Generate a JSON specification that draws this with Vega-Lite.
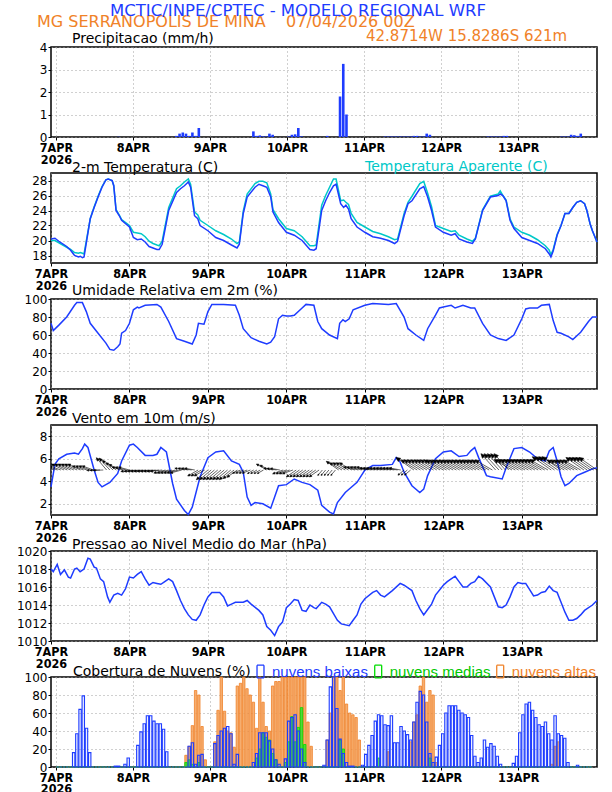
{
  "$schema": "https://vega.github.io/schema/vega-lite/v6.json",
  "autosize": {"type": "none"},
  "padding": {"left": 51, "top": 47, "right": 561, "bottom": 745},
  "background": "white",
  "config": {
    "font": "DejaVu Sans",
    "view": {"stroke": "black", "strokeWidth": 1.5},
    "title": {"font": "DejaVu Sans", "fontSize": 14, "fontWeight": "normal", "color": "black", "anchor": "start", "frame": "group", "offset": 0},
    "axis": {"domain": false, "grid": true, "gridColor": "#a0a0a0", "gridDash": [1, 3], "tickColor": "black", "labelColor": "black", "title": null, "labelOverlap": false}
  },
  "datasets": {
    "bars": [
      {"h":0.5,"pr":0,"cl":0,"cm":0,"ch":0},{"h":1.5,"pr":0,"cl":0,"cm":0,"ch":0},{"h":2.5,"pr":0,"cl":0,"cm":0,"ch":0},{"h":3.5,"pr":0,"cl":0,"cm":0,"ch":0},{"h":4.5,"pr":0,"cl":0,"cm":0,"ch":0},
      {"h":5.5,"pr":0,"cl":16,"cm":0,"ch":0},{"h":6.5,"pr":0,"cl":37,"cm":0,"ch":0},{"h":7.5,"pr":0,"cl":64,"cm":0,"ch":0},{"h":8.5,"pr":0,"cl":79,"cm":0,"ch":0},{"h":9.5,"pr":0,"cl":43,"cm":0,"ch":0},
      {"h":10.5,"pr":0,"cl":16,"cm":0,"ch":0},{"h":11.5,"pr":0,"cl":0,"cm":0,"ch":0},{"h":12.5,"pr":0,"cl":0,"cm":0,"ch":0},{"h":13.5,"pr":0,"cl":0,"cm":0,"ch":0},{"h":14.5,"pr":0,"cl":0,"cm":0,"ch":0},
      {"h":15.5,"pr":0,"cl":0,"cm":0,"ch":0},{"h":16.5,"pr":0,"cl":0,"cm":0,"ch":0},{"h":17.5,"pr":0,"cl":0,"cm":0,"ch":0},{"h":18.5,"pr":0,"cl":1,"cm":0,"ch":0},{"h":19.5,"pr":0.01,"cl":1,"cm":0,"ch":0},
      {"h":20.5,"pr":0,"cl":0,"cm":0,"ch":0},{"h":21.5,"pr":0,"cl":3,"cm":0,"ch":0},{"h":22.5,"pr":0,"cl":10,"cm":0,"ch":0},{"h":23.5,"pr":0,"cl":0,"cm":0,"ch":0},{"h":24.5,"pr":0,"cl":0,"cm":0,"ch":0},
      {"h":25.5,"pr":0,"cl":24,"cm":0,"ch":0},{"h":26.5,"pr":0,"cl":39,"cm":0,"ch":0},{"h":27.5,"pr":0,"cl":48,"cm":0,"ch":0},{"h":28.5,"pr":0,"cl":57,"cm":0,"ch":0},{"h":29.5,"pr":0,"cl":57,"cm":0,"ch":0},
      {"h":30.5,"pr":0,"cl":51,"cm":0,"ch":0},{"h":31.5,"pr":0,"cl":48,"cm":0,"ch":0},{"h":32.5,"pr":0,"cl":48,"cm":0,"ch":0},{"h":33.5,"pr":0,"cl":42,"cm":0,"ch":0},{"h":34.5,"pr":0,"cl":17,"cm":0,"ch":0},
      {"h":35.5,"pr":0,"cl":0,"cm":0,"ch":0},{"h":36.5,"pr":0,"cl":0,"cm":0,"ch":0},{"h":37.5,"pr":0.05,"cl":0,"cm":0,"ch":0},{"h":38.5,"pr":0.15,"cl":0,"cm":0,"ch":0},{"h":39.5,"pr":0.2,"cl":0,"cm":0,"ch":0},
      {"h":40.5,"pr":0.15,"cl":0,"cm":5,"ch":13},{"h":41.5,"pr":0.05,"cl":23,"cm":8,"ch":23},{"h":42.5,"pr":0.2,"cl":27,"cm":3,"ch":46},{"h":43.5,"pr":0.05,"cl":3,"cm":0,"ch":85},{"h":44.5,"pr":0.4,"cl":13,"cm":5,"ch":80},
      {"h":45.5,"pr":0,"cl":14,"cm":0,"ch":45},{"h":46.5,"pr":0,"cl":0,"cm":0,"ch":8},{"h":47.5,"pr":0,"cl":0,"cm":0,"ch":0},{"h":48.5,"pr":0,"cl":0,"cm":0,"ch":0},{"h":49.5,"pr":0,"cl":26,"cm":0,"ch":28},
      {"h":50.5,"pr":0,"cl":35,"cm":0,"ch":63},{"h":51.5,"pr":0,"cl":40,"cm":0,"ch":100},{"h":52.5,"pr":0,"cl":43,"cm":0,"ch":62},{"h":53.5,"pr":0,"cl":45,"cm":0,"ch":40},{"h":54.5,"pr":0,"cl":37,"cm":0,"ch":38},
      {"h":55.5,"pr":0,"cl":3,"cm":0,"ch":22},{"h":56.5,"pr":0,"cl":14,"cm":0,"ch":90},{"h":57.5,"pr":0,"cl":0,"cm":0,"ch":93},{"h":58.5,"pr":0,"cl":0,"cm":0,"ch":100},{"h":59.5,"pr":0,"cl":0,"cm":0,"ch":87},
      {"h":60.5,"pr":0,"cl":0,"cm":0,"ch":80},{"h":61.5,"pr":0.25,"cl":5,"cm":0,"ch":72},{"h":62.5,"pr":0.05,"cl":15,"cm":10,"ch":43},{"h":63.5,"pr":0.07,"cl":38,"cm":20,"ch":100},{"h":64.5,"pr":0.03,"cl":38,"cm":38,"ch":72},
      {"h":65.5,"pr":0.02,"cl":38,"cm":33,"ch":45},{"h":66.5,"pr":0.15,"cl":29,"cm":30,"ch":40},{"h":67.5,"pr":0.1,"cl":20,"cm":15,"ch":90},{"h":68.5,"pr":0,"cl":8,"cm":8,"ch":95},{"h":69.5,"pr":0,"cl":3,"cm":0,"ch":95},
      {"h":70.5,"pr":0,"cl":0,"cm":0,"ch":100},{"h":71.5,"pr":0,"cl":9,"cm":5,"ch":100},{"h":72.5,"pr":0.02,"cl":51,"cm":28,"ch":100},{"h":73.5,"pr":0.1,"cl":55,"cm":56,"ch":100},{"h":74.5,"pr":0.12,"cl":58,"cm":28,"ch":100},
      {"h":75.5,"pr":0.4,"cl":40,"cm":44,"ch":100},{"h":76.5,"pr":0.03,"cl":20,"cm":66,"ch":100},{"h":77.5,"pr":0,"cl":5,"cm":25,"ch":100},{"h":78.5,"pr":0,"cl":0,"cm":0,"ch":50},{"h":79.5,"pr":0,"cl":0,"cm":0,"ch":23},
      {"h":80.5,"pr":0,"cl":0,"cm":0,"ch":0},{"h":81.5,"pr":0,"cl":0,"cm":0,"ch":0},{"h":82.5,"pr":0,"cl":0,"cm":0,"ch":0},{"h":83.5,"pr":0,"cl":2,"cm":0,"ch":0},{"h":84.5,"pr":0.05,"cl":30,"cm":0,"ch":30},
      {"h":85.5,"pr":0,"cl":89,"cm":0,"ch":60},{"h":86.5,"pr":0,"cl":100,"cm":0,"ch":100},{"h":87.5,"pr":0,"cl":65,"cm":0,"ch":100},{"h":88.5,"pr":1.8,"cl":31,"cm":30,"ch":85},{"h":89.5,"pr":3.25,"cl":15,"cm":20,"ch":100},
      {"h":90.5,"pr":1.0,"cl":5,"cm":0,"ch":70},{"h":91.5,"pr":0,"cl":1,"cm":0,"ch":60},{"h":92.5,"pr":0,"cl":1,"cm":0,"ch":58},{"h":93.5,"pr":0,"cl":0,"cm":0,"ch":55},{"h":94.5,"pr":0,"cl":0,"cm":0,"ch":30},
      {"h":95.5,"pr":0,"cl":2,"cm":0,"ch":0},{"h":96.5,"pr":0,"cl":14,"cm":0,"ch":0},{"h":97.5,"pr":0,"cl":24,"cm":0,"ch":0},{"h":98.5,"pr":0,"cl":35,"cm":0,"ch":0},{"h":99.5,"pr":0,"cl":51,"cm":0,"ch":0},
      {"h":100.5,"pr":0,"cl":58,"cm":10,"ch":0},{"h":101.5,"pr":0,"cl":57,"cm":0,"ch":0},{"h":102.5,"pr":0.02,"cl":47,"cm":0,"ch":0},{"h":103.5,"pr":0.02,"cl":46,"cm":0,"ch":17},{"h":104.5,"pr":0.02,"cl":57,"cm":0,"ch":0},
      {"h":105.5,"pr":0.02,"cl":27,"cm":0,"ch":0},{"h":106.5,"pr":0.02,"cl":27,"cm":0,"ch":0},{"h":107.5,"pr":0.02,"cl":45,"cm":0,"ch":0},{"h":108.5,"pr":0.02,"cl":40,"cm":0,"ch":0},{"h":109.5,"pr":0.02,"cl":36,"cm":0,"ch":0},
      {"h":110.5,"pr":0.02,"cl":30,"cm":0,"ch":28},{"h":111.5,"pr":0.05,"cl":50,"cm":0,"ch":50},{"h":112.5,"pr":0.05,"cl":72,"cm":0,"ch":58},{"h":113.5,"pr":0.02,"cl":84,"cm":0,"ch":90},{"h":114.5,"pr":0.02,"cl":80,"cm":0,"ch":100},
      {"h":115.5,"pr":0.15,"cl":50,"cm":0,"ch":72},{"h":116.5,"pr":0.1,"cl":15,"cm":10,"ch":85},{"h":117.5,"pr":0,"cl":5,"cm":0,"ch":80},{"h":118.5,"pr":0,"cl":11,"cm":0,"ch":5},{"h":119.5,"pr":0,"cl":24,"cm":0,"ch":0},
      {"h":120.5,"pr":0,"cl":37,"cm":0,"ch":0},{"h":121.5,"pr":0,"cl":60,"cm":0,"ch":0},{"h":122.5,"pr":0,"cl":68,"cm":0,"ch":0},{"h":123.5,"pr":0,"cl":68,"cm":0,"ch":0},{"h":124.5,"pr":0,"cl":68,"cm":0,"ch":0},
      {"h":125.5,"pr":0,"cl":63,"cm":0,"ch":0},{"h":126.5,"pr":0,"cl":60,"cm":0,"ch":0},{"h":127.5,"pr":0,"cl":58,"cm":0,"ch":0},{"h":128.5,"pr":0,"cl":55,"cm":0,"ch":0},{"h":129.5,"pr":0,"cl":35,"cm":0,"ch":0},
      {"h":130.5,"pr":0,"cl":12,"cm":0,"ch":0},{"h":131.5,"pr":0,"cl":5,"cm":0,"ch":0},{"h":132.5,"pr":0,"cl":10,"cm":0,"ch":0},{"h":133.5,"pr":0,"cl":30,"cm":0,"ch":0},{"h":134.5,"pr":0.02,"cl":22,"cm":0,"ch":0},
      {"h":135.5,"pr":0.02,"cl":26,"cm":0,"ch":0},{"h":136.5,"pr":0.02,"cl":23,"cm":0,"ch":0},{"h":137.5,"pr":0.02,"cl":12,"cm":0,"ch":0},{"h":138.5,"pr":0.02,"cl":3,"cm":0,"ch":0},{"h":139.5,"pr":0.05,"cl":0,"cm":0,"ch":0},
      {"h":140.5,"pr":0.05,"cl":0,"cm":0,"ch":0},{"h":141.5,"pr":0,"cl":0,"cm":0,"ch":0},{"h":142.5,"pr":0,"cl":4,"cm":0,"ch":0},{"h":143.5,"pr":0,"cl":12,"cm":0,"ch":0},{"h":144.5,"pr":0,"cl":38,"cm":0,"ch":0},
      {"h":145.5,"pr":0,"cl":58,"cm":0,"ch":0},{"h":146.5,"pr":0,"cl":70,"cm":0,"ch":0},{"h":147.5,"pr":0,"cl":72,"cm":0,"ch":0},{"h":148.5,"pr":0,"cl":63,"cm":0,"ch":0},{"h":149.5,"pr":0,"cl":55,"cm":0,"ch":0},
      {"h":150.5,"pr":0,"cl":47,"cm":0,"ch":0},{"h":151.5,"pr":0,"cl":45,"cm":0,"ch":0},{"h":152.5,"pr":0,"cl":50,"cm":0,"ch":0},{"h":153.5,"pr":0,"cl":37,"cm":0,"ch":0},{"h":154.5,"pr":0,"cl":30,"cm":0,"ch":3},
      {"h":155.5,"pr":0,"cl":57,"cm":0,"ch":23},{"h":156.5,"pr":0,"cl":37,"cm":0,"ch":28},{"h":157.5,"pr":0.02,"cl":35,"cm":0,"ch":0},{"h":158.5,"pr":0.02,"cl":32,"cm":0,"ch":0},{"h":159.5,"pr":0.02,"cl":5,"cm":0,"ch":0},
      {"h":160.5,"pr":0.1,"cl":0,"cm":0,"ch":0},{"h":161.5,"pr":0.08,"cl":0,"cm":0,"ch":0},{"h":162.5,"pr":0.05,"cl":2,"cm":0,"ch":0},{"h":163.5,"pr":0.15,"cl":0,"cm":0,"ch":0},{"h":164.5,"pr":0,"cl":0,"cm":0,"ch":0},
      {"h":165.5,"pr":0,"cl":0,"cm":0,"ch":0},{"h":166.5,"pr":0,"cl":0,"cm":0,"ch":0}
    ],
    "temp": [
      {"h":0,"t":20.2,"ta":20.0},{"h":1.2,"t":20.3,"ta":20.0},{"h":2.4,"t":19.9,"ta":19.7},{"h":4.8,"t":19.2,"ta":19.1},{"h":6,"t":18.7,"ta":18.8},
      {"h":7.2,"t":18.0,"ta":18.4},{"h":8.4,"t":17.8,"ta":18.3},{"h":9,"t":17.9,"ta":18.4},{"h":9.6,"t":17.7,"ta":18.3},{"h":10.1,"t":17.8,"ta":18.2},
      {"h":12,"t":22.9,"ta":22.9},{"h":13.2,"t":24.4,"ta":24.5},{"h":14.4,"t":25.8,"ta":25.9},{"h":15.6,"t":27.1,"ta":27.2},{"h":16.8,"t":28.1,"ta":28.1},
      {"h":17.5,"t":28.2,"ta":28.2},{"h":18.7,"t":28.0,"ta":28.0},{"h":19.2,"t":27.3,"ta":27.3},{"h":19.9,"t":24.0,"ta":24.1},{"h":20.9,"t":23.3,"ta":23.4},
      {"h":21.6,"t":22.7,"ta":22.8},{"h":24,"t":21.8,"ta":22.0},{"h":25.2,"t":20.4,"ta":21.1},{"h":26.4,"t":20.1,"ta":21.0},{"h":27.6,"t":20.2,"ta":20.9},
      {"h":28.8,"t":19.8,"ta":20.5},{"h":30,"t":19.2,"ta":19.9},{"h":31.2,"t":19.0,"ta":19.6},{"h":32.4,"t":18.8,"ta":19.4},{"h":33.1,"t":18.8,"ta":19.3},
      {"h":34,"t":19.5,"ta":19.9},{"h":36,"t":24.0,"ta":24.4},{"h":38.4,"t":26.4,"ta":26.9},{"h":39.6,"t":26.9,"ta":27.3},{"h":40.8,"t":27.3,"ta":27.8},
      {"h":42,"t":27.8,"ta":28.2},{"h":42.7,"t":27.1,"ta":27.5},{"h":43.9,"t":23.3,"ta":23.8},{"h":44.9,"t":22.9,"ta":23.4},{"h":45.6,"t":22.0,"ta":22.7},
      {"h":48,"t":21.3,"ta":22.0},{"h":50.4,"t":20.4,"ta":21.3},{"h":52.8,"t":20.0,"ta":20.8},{"h":55.2,"t":19.4,"ta":20.2},{"h":56.9,"t":19.0,"ta":19.6},
      {"h":57.6,"t":19.5,"ta":19.8},{"h":58.8,"t":23.6,"ta":23.9},{"h":60,"t":25.8,"ta":26.2},{"h":62.4,"t":27.1,"ta":27.6},{"h":63.6,"t":27.5,"ta":27.9},
      {"h":64.8,"t":27.3,"ta":27.9},{"h":66,"t":27.1,"ta":27.7},{"h":67.2,"t":25.8,"ta":26.2},{"h":67.9,"t":23.8,"ta":24.1},{"h":69.6,"t":22.4,"ta":22.9},
      {"h":72,"t":21.1,"ta":21.6},{"h":74.4,"t":20.7,"ta":21.3},{"h":76.8,"t":20.0,"ta":20.5},{"h":79.2,"t":18.8,"ta":19.3},{"h":80.4,"t":18.7,"ta":19.3},
      {"h":81.1,"t":18.9,"ta":19.4},{"h":82.8,"t":24.0,"ta":24.7},{"h":84,"t":25.3,"ta":26.0},{"h":85.2,"t":26.4,"ta":27.1},{"h":86.4,"t":27.3,"ta":28.2},
      {"h":87.2,"t":27.5,"ta":28.2},{"h":88.6,"t":24.9,"ta":25.3},{"h":89.5,"t":24.4,"ta":25.4},{"h":90.2,"t":24.7,"ta":25.1},{"h":91,"t":24.2,"ta":24.8},
      {"h":91.8,"t":22.9,"ta":23.6},{"h":93.6,"t":21.8,"ta":22.4},{"h":96,"t":21.1,"ta":21.8},{"h":98.4,"t":20.5,"ta":21.2},{"h":100.8,"t":20.3,"ta":20.9},
      {"h":103.2,"t":20.0,"ta":20.5},{"h":105.1,"t":19.6,"ta":20.1},{"h":106,"t":19.9,"ta":20.2},{"h":108,"t":23.3,"ta":23.6},{"h":109.2,"t":24.9,"ta":25.1},
      {"h":110.4,"t":25.3,"ta":25.9},{"h":112.8,"t":26.9,"ta":27.6},{"h":114,"t":27.2,"ta":27.9},{"h":115.2,"t":25.8,"ta":26.3},{"h":116.4,"t":24.0,"ta":24.5},
      {"h":117.6,"t":21.8,"ta":22.0},{"h":120,"t":21.1,"ta":21.6},{"h":122.4,"t":20.7,"ta":21.2},{"h":123.6,"t":20.9,"ta":21.3},{"h":124.8,"t":20.2,"ta":20.7},
      {"h":127.2,"t":19.8,"ta":20.2},{"h":128.9,"t":19.6,"ta":19.9},{"h":129.8,"t":20.2,"ta":20.3},{"h":132,"t":24.0,"ta":24.1},{"h":134.4,"t":25.8,"ta":25.9},
      {"h":136.8,"t":26.0,"ta":26.2},{"h":137.4,"t":26.2,"ta":26.6},{"h":138.2,"t":26.0,"ta":26.0},{"h":139.2,"t":25.3,"ta":25.4},{"h":140.4,"t":22.7,"ta":22.9},
      {"h":141.6,"t":21.6,"ta":21.8},{"h":144,"t":20.4,"ta":21.1},{"h":146.4,"t":20.0,"ta":20.7},{"h":148.8,"t":19.6,"ta":20.1},{"h":151.2,"t":18.9,"ta":19.3},
      {"h":152.4,"t":18.2,"ta":18.7},{"h":152.9,"t":17.8,"ta":18.1},{"h":153.6,"t":18.6,"ta":18.8},{"h":154.8,"t":20.7,"ta":20.8},{"h":156,"t":22.0,"ta":22.0},
      {"h":157.2,"t":23.6,"ta":23.6},{"h":158.4,"t":23.6,"ta":23.6},{"h":159.6,"t":24.4,"ta":24.4},{"h":160.8,"t":25.1,"ta":25.1},{"h":162,"t":25.3,"ta":25.3},
      {"h":163.2,"t":24.9,"ta":24.9},{"h":163.9,"t":24.0,"ta":24.0},{"h":164.9,"t":22.2,"ta":22.2},{"h":165.6,"t":21.3,"ta":21.3},{"h":167,"t":19.8,"ta":19.8}
    ],
    "rh": [
      {"h":0,"rh":73},{"h":0.7,"rh":65},{"h":2.4,"rh":71},{"h":4.8,"rh":80},{"h":7.2,"rh":93},{"h":7.9,"rh":96},{"h":9.6,"rh":96},{"h":10.8,"rh":86},
      {"h":12,"rh":73},{"h":14.4,"rh":62},{"h":16.8,"rh":51},{"h":18,"rh":44},{"h":19.2,"rh":43},{"h":20.4,"rh":47},{"h":21.1,"rh":50},{"h":21.6,"rh":62},
      {"h":22.8,"rh":65},{"h":24,"rh":73},{"h":25.2,"rh":88},{"h":26.4,"rh":91},{"h":26.9,"rh":90},{"h":28.8,"rh":93},{"h":32.4,"rh":94},{"h":33.6,"rh":91},
      {"h":36,"rh":75},{"h":38.4,"rh":56},{"h":40.8,"rh":53},{"h":43.2,"rh":50},{"h":44.4,"rh":60},{"h":45.1,"rh":73},{"h":46.8,"rh":72},{"h":48,"rh":86},
      {"h":49.2,"rh":94},{"h":52.8,"rh":94},{"h":56.4,"rh":93},{"h":57.6,"rh":82},{"h":58.8,"rh":67},{"h":61.2,"rh":57},{"h":63.6,"rh":53},{"h":66,"rh":50},
      {"h":67.2,"rh":52},{"h":68.4,"rh":58},{"h":69.6,"rh":78},{"h":70.8,"rh":82},{"h":72,"rh":81},{"h":73.2,"rh":81},{"h":74.4,"rh":82},{"h":76.8,"rh":90},
      {"h":78,"rh":94},{"h":80.4,"rh":93},{"h":81.6,"rh":75},{"h":82.8,"rh":67},{"h":85.2,"rh":60},{"h":87.6,"rh":56},{"h":88.3,"rh":73},{"h":89.3,"rh":77},
      {"h":90,"rh":75},{"h":91.2,"rh":78},{"h":92.4,"rh":88},{"h":96,"rh":93},{"h":98.4,"rh":95},{"h":103.2,"rh":94},{"h":105.6,"rh":95},{"h":108,"rh":80},
      {"h":109.2,"rh":67},{"h":111.6,"rh":60},{"h":114,"rh":54},{"h":115.2,"rh":67},{"h":117.6,"rh":82},{"h":118.8,"rh":90},{"h":120,"rh":91},{"h":122.4,"rh":93},
      {"h":123.6,"rh":90},{"h":126,"rh":93},{"h":128.4,"rh":90},{"h":129.6,"rh":90},{"h":132,"rh":73},{"h":134.4,"rh":60},{"h":136.8,"rh":56},{"h":139.2,"rh":54},
      {"h":141.6,"rh":60},{"h":144,"rh":78},{"h":145.2,"rh":89},{"h":146.4,"rh":90},{"h":148.8,"rh":90},{"h":150,"rh":93},{"h":152.4,"rh":94},{"h":153.6,"rh":76},
      {"h":154.8,"rh":63},{"h":156,"rh":62},{"h":158.4,"rh":58},{"h":159.6,"rh":55},{"h":162,"rh":63},{"h":164.4,"rh":75},{"h":165.6,"rh":80},{"h":167,"rh":80}
    ],
    "ws": [
      {"h":0,"ws":3.5},{"h":1.2,"ws":5.5},{"h":2.4,"ws":6.0},{"h":4.8,"ws":6.4},{"h":7.2,"ws":6.5},{"h":8.4,"ws":6.4},{"h":9.6,"ws":6.9},{"h":10.3,"ws":7.3},
      {"h":11.3,"ws":7.0},{"h":13.2,"ws":5.0},{"h":14.4,"ws":3.9},{"h":15.6,"ws":3.5},{"h":18,"ws":3.9},{"h":20.4,"ws":4.7},{"h":21.6,"ws":5.8},{"h":24,"ws":7.2},
      {"h":25.2,"ws":7.3},{"h":26.4,"ws":7.0},{"h":28.8,"ws":6.3},{"h":31.2,"ws":6.3},{"h":32.4,"ws":6.4},{"h":33.6,"ws":7.0},{"h":35.3,"ws":6.6},{"h":37.2,"ws":3.8},
      {"h":38.4,"ws":2.4},{"h":40.8,"ws":1.4},{"h":42,"ws":1.05},{"h":43.2,"ws":1.7},{"h":45.6,"ws":4.4},{"h":48,"ws":6.1},{"h":50.4,"ws":6.6},{"h":52.8,"ws":6.7},
      {"h":55.2,"ws":5.8},{"h":57.6,"ws":5.5},{"h":58.8,"ws":4.8},{"h":60,"ws":2.6},{"h":61.2,"ws":1.85},{"h":62.4,"ws":2.1},{"h":64.8,"ws":2.0},{"h":67.2,"ws":1.6},
      {"h":68.4,"ws":2.6},{"h":69.6,"ws":3.6},{"h":72,"ws":3.7},{"h":74.4,"ws":4.2},{"h":76.8,"ws":3.9},{"h":79.2,"ws":3.7},{"h":81.6,"ws":3.2},{"h":82.8,"ws":1.85},
      {"h":85.2,"ws":1.25},{"h":86.4,"ws":1.1},{"h":87.6,"ws":2.1},{"h":90,"ws":3.0},{"h":93.6,"ws":3.9},{"h":96,"ws":5.0},{"h":98.4,"ws":5.4},{"h":100.8,"ws":5.4},
      {"h":104.4,"ws":5.5},{"h":105.6,"ws":6.1},{"h":106.8,"ws":5.7},{"h":108,"ws":4.8},{"h":110.4,"ws":3.6},{"h":112.8,"ws":3.0},{"h":114,"ws":3.3},{"h":115.2,"ws":4.5},
      {"h":117.6,"ws":6.0},{"h":120,"ws":6.6},{"h":122.4,"ws":6.7},{"h":124.8,"ws":6.2},{"h":127.2,"ws":6.3},{"h":128.4,"ws":6.7},{"h":129.6,"ws":7.0},{"h":130.8,"ws":6.1},
      {"h":133.2,"ws":4.5},{"h":134.4,"ws":4.4},{"h":138,"ws":4.2},{"h":139.2,"ws":5.2},{"h":141.6,"ws":6.9},{"h":144,"ws":7.0},{"h":146.4,"ws":6.6},{"h":148.8,"ws":6.0},
      {"h":151.2,"ws":5.8},{"h":152.4,"ws":6.7},{"h":153.6,"ws":7.0},{"h":154.8,"ws":5.8},{"h":156,"ws":4.4},{"h":157.2,"ws":3.6},{"h":158.4,"ws":3.8},{"h":160.8,"ws":4.5},
      {"h":163.2,"ws":4.8},{"h":165.6,"ws":5.1},{"h":167,"ws":5.2}
    ],
    "wind": [
      {"h":0,"dir":290,"mag":3.0},{"h":1,"dir":290,"mag":3.0},{"h":2,"dir":290,"mag":3.0},{"h":3,"dir":290,"mag":3.0},{"h":4,"dir":295,"mag":3.5},{"h":5,"dir":295,"mag":3.5},
      {"h":6,"dir":295,"mag":3.5},{"h":7,"dir":295,"mag":3.5},{"h":8,"dir":295,"mag":3.5},{"h":9,"dir":295,"mag":3.5},{"h":10,"dir":290,"mag":3.0},{"h":11,"dir":290,"mag":3.0},
      {"h":12,"dir":290,"mag":3.0},{"h":13,"dir":290,"mag":3.0},{"h":14,"dir":268,"mag":2.5},{"h":15,"dir":268,"mag":2.5},{"h":16,"dir":268,"mag":2.5},{"h":17,"dir":320,"mag":4.0},
      {"h":18,"dir":318,"mag":4.0},{"h":19,"dir":312,"mag":3.6},{"h":20,"dir":305,"mag":3.2},{"h":21,"dir":298,"mag":3.0},{"h":22,"dir":285,"mag":2.8},{"h":23,"dir":285,"mag":2.8},
      {"h":24,"dir":285,"mag":2.8},{"h":25,"dir":263,"mag":3.0},{"h":26,"dir":263,"mag":3.0},{"h":27,"dir":263,"mag":3.0},{"h":28,"dir":263,"mag":3.0},{"h":29,"dir":263,"mag":3.0},
      {"h":30,"dir":263,"mag":3.0},{"h":31,"dir":263,"mag":3.0},{"h":32,"dir":263,"mag":3.0},{"h":33,"dir":263,"mag":3.0},{"h":34,"dir":263,"mag":3.0},{"h":35,"dir":255,"mag":3.0},
      {"h":36,"dir":255,"mag":3.0},{"h":37,"dir":255,"mag":3.0},{"h":38,"dir":255,"mag":3.0},{"h":39,"dir":255,"mag":3.0},{"h":40,"dir":255,"mag":3.0},{"h":41,"dir":280,"mag":2.6},
      {"h":42,"dir":280,"mag":2.6},{"h":43,"dir":280,"mag":2.6},{"h":44,"dir":280,"mag":2.6},{"h":45,"dir":240,"mag":3.0},{"h":46,"dir":240,"mag":3.0},{"h":47,"dir":240,"mag":3.0},
      {"h":48,"dir":230,"mag":3.8},{"h":49,"dir":230,"mag":3.8},{"h":50,"dir":230,"mag":3.8},{"h":51,"dir":230,"mag":3.8},{"h":52,"dir":230,"mag":3.8},{"h":53,"dir":230,"mag":3.8},
      {"h":54,"dir":230,"mag":3.8},{"h":55,"dir":230,"mag":3.8},{"h":56,"dir":232,"mag":3.5},{"h":57,"dir":235,"mag":3.2},{"h":58,"dir":248,"mag":2.2},{"h":59,"dir":248,"mag":2.2},
      {"h":60,"dir":248,"mag":2.2},{"h":61,"dir":248,"mag":2.2},{"h":62,"dir":240,"mag":1.8},{"h":63,"dir":240,"mag":1.8},{"h":64,"dir":240,"mag":1.8},{"h":65,"dir":240,"mag":1.8},
      {"h":66,"dir":300,"mag":3.0},{"h":67,"dir":295,"mag":2.8},{"h":68,"dir":280,"mag":2.4},{"h":69,"dir":280,"mag":2.4},{"h":70,"dir":280,"mag":2.4},{"h":71,"dir":250,"mag":2.8},
      {"h":72,"dir":250,"mag":2.8},{"h":73,"dir":250,"mag":2.8},{"h":74,"dir":250,"mag":2.8},{"h":75,"dir":235,"mag":3.0},{"h":76,"dir":235,"mag":3.0},{"h":77,"dir":235,"mag":3.0},
      {"h":78,"dir":235,"mag":3.0},{"h":79,"dir":235,"mag":3.0},{"h":80,"dir":235,"mag":3.0},{"h":81,"dir":235,"mag":3.0},{"h":82,"dir":235,"mag":3.0},{"h":83,"dir":220,"mag":1.8},
      {"h":84,"dir":220,"mag":1.8},{"h":85,"dir":220,"mag":1.8},{"h":86,"dir":220,"mag":1.8},{"h":87,"dir":220,"mag":1.8},{"h":88,"dir":305,"mag":3.8},{"h":89,"dir":300,"mag":3.6},
      {"h":90,"dir":300,"mag":3.6},{"h":91,"dir":300,"mag":3.6},{"h":92,"dir":300,"mag":3.6},{"h":93,"dir":285,"mag":3.0},{"h":94,"dir":285,"mag":3.0},{"h":95,"dir":285,"mag":3.0},
      {"h":96,"dir":285,"mag":3.0},{"h":97,"dir":285,"mag":3.0},{"h":98,"dir":280,"mag":3.0},{"h":99,"dir":280,"mag":3.0},{"h":100,"dir":280,"mag":3.0},{"h":101,"dir":280,"mag":3.0},
      {"h":102,"dir":280,"mag":3.0},{"h":103,"dir":280,"mag":3.0},{"h":104,"dir":280,"mag":3.0},{"h":105,"dir":280,"mag":3.0},{"h":106,"dir":280,"mag":3.0},{"h":107,"dir":280,"mag":3.0},
      {"h":108,"dir":230,"mag":2.0},{"h":109,"dir":230,"mag":2.0},{"h":110,"dir":230,"mag":2.0},{"h":111,"dir":305,"mag":5.5},{"h":112,"dir":302,"mag":4.8},{"h":113,"dir":302,"mag":4.8},
      {"h":114,"dir":302,"mag":4.8},{"h":115,"dir":302,"mag":4.8},{"h":116,"dir":302,"mag":4.8},{"h":117,"dir":302,"mag":4.8},{"h":118,"dir":302,"mag":4.8},{"h":119,"dir":302,"mag":4.8},
      {"h":120,"dir":300,"mag":5.0},{"h":121,"dir":300,"mag":5.0},{"h":122,"dir":300,"mag":5.0},{"h":123,"dir":300,"mag":5.0},{"h":124,"dir":300,"mag":5.0},{"h":125,"dir":300,"mag":5.0},
      {"h":126,"dir":300,"mag":5.0},{"h":127,"dir":300,"mag":5.0},{"h":128,"dir":300,"mag":5.0},{"h":129,"dir":300,"mag":5.0},{"h":130,"dir":300,"mag":5.0},{"h":131,"dir":300,"mag":5.0},
      {"h":132,"dir":300,"mag":5.0},{"h":133,"dir":300,"mag":5.0},{"h":134,"dir":300,"mag":5.0},{"h":135,"dir":300,"mag":5.0},{"h":136,"dir":318,"mag":5.5},{"h":137,"dir":318,"mag":5.5},
      {"h":138,"dir":318,"mag":5.5},{"h":139,"dir":318,"mag":5.5},{"h":140,"dir":318,"mag":5.5},{"h":141,"dir":300,"mag":5.2},{"h":142,"dir":300,"mag":5.2},{"h":143,"dir":300,"mag":5.2},
      {"h":144,"dir":300,"mag":5.2},{"h":145,"dir":300,"mag":5.2},{"h":146,"dir":300,"mag":5.2},{"h":147,"dir":300,"mag":5.2},{"h":148,"dir":300,"mag":5.2},{"h":149,"dir":300,"mag":5.2},
      {"h":150,"dir":300,"mag":5.2},{"h":151,"dir":300,"mag":5.2},{"h":152,"dir":300,"mag":5.2},{"h":153,"dir":305,"mag":5.8},{"h":154,"dir":305,"mag":5.8},{"h":155,"dir":305,"mag":5.8},
      {"h":156,"dir":305,"mag":5.8},{"h":157,"dir":300,"mag":5.0},{"h":158,"dir":300,"mag":5.0},{"h":159,"dir":300,"mag":5.0},{"h":160,"dir":300,"mag":5.0},{"h":161,"dir":300,"mag":5.0},
      {"h":162,"dir":300,"mag":5.0},{"h":163,"dir":305,"mag":5.5},{"h":164,"dir":305,"mag":5.5},{"h":165,"dir":305,"mag":5.5},{"h":166,"dir":305,"mag":5.5},{"h":167,"dir":305,"mag":5.5}
    ],
    "pres": [
      {"h":0,"p":1018.0},{"h":0.7,"p":1017.7},{"h":1.9,"p":1018.5},{"h":2.9,"p":1017.4},{"h":4.1,"p":1017.9},{"h":5.3,"p":1017.1},{"h":6,"p":1017.0},{"h":7.2,"p":1018.0},
      {"h":7.9,"p":1018.1},{"h":8.9,"p":1017.7},{"h":10.1,"p":1018.0},{"h":11.3,"p":1019.2},{"h":12,"p":1019.1},{"h":13.2,"p":1018.2},{"h":13.9,"p":1018.1},{"h":15.1,"p":1016.9},
      {"h":16.1,"p":1016.6},{"h":17.3,"p":1014.9},{"h":18,"p":1014.3},{"h":19.2,"p":1015.1},{"h":20.4,"p":1015.3},{"h":21.6,"p":1015.1},{"h":22.8,"p":1015.8},{"h":24,"p":1017.1},
      {"h":25.2,"p":1017.0},{"h":26.4,"p":1017.4},{"h":27.6,"p":1017.7},{"h":28.8,"p":1016.9},{"h":30,"p":1016.2},{"h":31.2,"p":1016.5},{"h":32.4,"p":1016.4},{"h":33.6,"p":1016.3},
      {"h":34.8,"p":1016.6},{"h":36,"p":1016.9},{"h":37.2,"p":1016.6},{"h":38.4,"p":1015.6},{"h":39.6,"p":1014.5},{"h":40.8,"p":1013.6},{"h":42,"p":1012.9},{"h":43.2,"p":1012.4},
      {"h":44.4,"p":1012.3},{"h":45.6,"p":1012.9},{"h":46.8,"p":1014.0},{"h":48,"p":1014.9},{"h":49.2,"p":1015.4},{"h":51.6,"p":1015.4},{"h":52.8,"p":1014.9},{"h":54,"p":1013.9},
      {"h":55.2,"p":1014.1},{"h":56.4,"p":1014.3},{"h":58.8,"p":1014.3},{"h":60,"p":1014.5},{"h":61.2,"p":1014.1},{"h":63.6,"p":1013.4},{"h":64.8,"p":1012.9},{"h":66,"p":1011.6},
      {"h":67.2,"p":1011.2},{"h":68.4,"p":1010.6},{"h":69.6,"p":1011.6},{"h":70.8,"p":1012.1},{"h":72,"p":1013.7},{"h":73.2,"p":1014.1},{"h":74.4,"p":1014.6},{"h":75.6,"p":1014.5},
      {"h":76.8,"p":1013.4},{"h":78,"p":1013.3},{"h":79.2,"p":1014.0},{"h":80.4,"p":1013.7},{"h":81.1,"p":1013.6},{"h":82.8,"p":1014.3},{"h":84,"p":1014.1},{"h":85.2,"p":1013.8},
      {"h":87.6,"p":1012.3},{"h":88.8,"p":1011.9},{"h":91.2,"p":1011.7},{"h":92.4,"p":1012.3},{"h":93.6,"p":1012.9},{"h":94.8,"p":1014.1},{"h":96,"p":1014.7},{"h":98.4,"p":1015.4},
      {"h":99.6,"p":1015.6},{"h":100.8,"p":1015.1},{"h":102,"p":1014.9},{"h":104.4,"p":1015.6},{"h":106.8,"p":1016.4},{"h":108,"p":1016.2},{"h":109.2,"p":1015.9},{"h":110.4,"p":1015.6},
      {"h":111.6,"p":1014.5},{"h":112.8,"p":1013.6},{"h":114,"p":1012.9},{"h":115.2,"p":1013.5},{"h":116.4,"p":1014.1},{"h":117.6,"p":1015.1},{"h":120,"p":1016.2},{"h":121.2,"p":1016.6},
      {"h":122.4,"p":1016.9},{"h":123.6,"p":1017.2},{"h":124.8,"p":1016.6},{"h":126,"p":1016.0},{"h":127.2,"p":1016.0},{"h":128.4,"p":1016.4},{"h":129.6,"p":1016.6},{"h":130.8,"p":1017.2},
      {"h":132,"p":1016.9},{"h":134.4,"p":1016.0},{"h":135.6,"p":1014.9},{"h":136.8,"p":1013.8},{"h":138,"p":1013.7},{"h":139.2,"p":1014.0},{"h":140.4,"p":1014.9},{"h":141.6,"p":1016.0},
      {"h":142.8,"p":1016.5},{"h":144,"p":1016.4},{"h":145.2,"p":1016.4},{"h":146.4,"p":1015.7},{"h":147.6,"p":1015.0},{"h":148.8,"p":1015.1},{"h":150,"p":1015.4},{"h":151.2,"p":1015.5},
      {"h":152.4,"p":1016.1},{"h":153.6,"p":1015.6},{"h":154.8,"p":1015.4},{"h":156,"p":1014.3},{"h":157.2,"p":1013.2},{"h":158.4,"p":1012.3},{"h":159.6,"p":1012.3},{"h":160.8,"p":1012.5},
      {"h":162,"p":1012.9},{"h":163.2,"p":1013.4},{"h":165.6,"p":1014.0},{"h":167,"p":1014.5}
    ]
  },
  "title": {"text": "MCTIC/INPE/CPTEC - MODELO REGIONAL WRF", "color": "#1e3cff", "fontSize": 16.5, "dx": 59, "offset": -5},
  "bounds": "flush",
  "vconcat": [
    {
      "title": {"text": "MG SERRANOPOLIS DE MINA\u00a0\u00a0\u00a0\u00a007/04/2026 00Z", "color": "#f08228", "fontSize": 16, "dx": -14, "offset": -1},
      "bounds": "flush",
      "vconcat": [
        {
          "title": {"text": "42.8714W 15.8286S 621m", "color": "#f08228", "fontSize": 15, "anchor": "start", "frame": "group", "dx": 315, "offset": -13},
          "bounds": "flush",
          "spacing": 36,
          "resolve": {"scale": {"x": "independent", "y": "independent", "color": "independent", "stroke": "independent", "size": "independent", "angle": "independent"}, "legend": {"color": "independent", "stroke": "independent"}},
          "vconcat": [
            {
              "title": {"text": "Precipitacao (mm/h)", "dx": 21, "offset": -5},
              "width": 546, "height": 90,
              "data": {"name": "bars"},
              "mark": {"type": "bar", "color": "#1e3cff", "width": 2.6},
              "encoding": {
                "x": {"field": "h", "type": "quantitative", "scale": {"domain": [0, 167], "nice": false, "zero": false},
                      "axis": {"values": [0, 24, 48, 72, 96, 120, 144], "labelExpr": "datum.value == 0 ? ['7APR','2026'] : (7 + datum.value/24) + 'APR'", "tickSize": 3, "labelPadding": 1, "labelFont": "Liberation Sans Narrow, DejaVu Sans Condensed, Liberation Sans", "labelFontSize": 12.5, "labelFontWeight": "bold", "labelFlush": false, "labelOverlap": false, "labelLineHeight": 12}},
                "y": {"field": "pr", "type": "quantitative", "scale": {"domain": [0, 4], "nice": false},
                      "axis": {"values": [0, 1, 2, 3, 4], "tickSize": 3, "labelPadding": 1, "labelFont": "DejaVu Sans", "labelFontSize": 12, "labelOverlap": false}}
              }
            },
            {
              "title": {"text": "2-m Temperatura (C)", "dx": 21, "offset": -15},
              "width": 546, "height": 90,
              "data": {"name": "temp"},
              "transform": [{"fold": ["ta", "t"], "as": ["serie", "valor"]}],
              "mark": {"type": "line", "strokeWidth": 1.5},
              "encoding": {
                "x": {"field": "h", "type": "quantitative", "scale": {"domain": [0, 167], "nice": false, "zero": false},
                      "axis": {"values": [0, 24, 48, 72, 96, 120, 144], "labelExpr": "datum.value == 0 ? ['7APR','2026'] : (7 + datum.value/24) + 'APR'", "tickSize": 3, "labelPadding": 1, "labelFont": "Liberation Sans Narrow, DejaVu Sans Condensed, Liberation Sans", "labelFontSize": 12.5, "labelFontWeight": "bold", "labelFlush": false, "labelOverlap": false, "labelLineHeight": 12}},
                "y": {"field": "valor", "type": "quantitative", "scale": {"domain": [17, 29], "nice": false, "zero": false},
                      "axis": {"values": [18, 20, 22, 24, 26, 28], "tickSize": 3, "labelPadding": 1, "labelFont": "DejaVu Sans", "labelFontSize": 12, "labelOverlap": false}},
                "color": {"field": "serie", "type": "nominal", "scale": {"domain": ["t", "ta"], "range": ["#1e3cff", "#00c8c8"]},
                          "legend": {"values": ["ta"], "labelExpr": "'Temperatura Aparente (C)'", "title": null, "orient": "none", "legendX": 300, "legendY": -13, "symbolSize": 0, "symbolStrokeWidth": 0, "symbolOpacity": 0, "labelColor": "#00c8c8", "labelFontSize": 14, "labelFont": "DejaVu Sans", "labelLimit": 400, "padding": 0, "labelOffset": 0}}
              }
            },
            {
              "title": {"text": "Umidade Relativa em 2m (%)", "dx": 21, "offset": -5},
              "width": 546, "height": 90,
              "data": {"name": "rh"},
              "mark": {"type": "line", "strokeWidth": 1.5, "color": "#1e3cff"},
              "encoding": {
                "x": {"field": "h", "type": "quantitative", "scale": {"domain": [0, 167], "nice": false, "zero": false},
                      "axis": {"values": [0, 24, 48, 72, 96, 120, 144], "labelExpr": "datum.value == 0 ? ['7APR','2026'] : (7 + datum.value/24) + 'APR'", "tickSize": 3, "labelPadding": 1, "labelFont": "Liberation Sans Narrow, DejaVu Sans Condensed, Liberation Sans", "labelFontSize": 12.5, "labelFontWeight": "bold", "labelFlush": false, "labelOverlap": false, "labelLineHeight": 12}},
                "y": {"field": "rh", "type": "quantitative", "scale": {"domain": [0, 100], "nice": false},
                      "axis": {"values": [0, 20, 40, 60, 80, 100], "tickSize": 3, "labelPadding": 1, "labelFont": "DejaVu Sans", "labelFontSize": 12, "labelOverlap": false}}
              }
            },
            {
              "title": {"text": "Vento em 10m (m/s)", "dx": 21, "offset": -1},
              "width": 546, "height": 90,
              "encoding": {
                "x": {"field": "h", "type": "quantitative", "scale": {"domain": [0, 167], "nice": false, "zero": false},
                      "axis": {"values": [0, 24, 48, 72, 96, 120, 144], "labelExpr": "datum.value == 0 ? ['7APR','2026'] : (7 + datum.value/24) + 'APR'", "tickSize": 3, "labelPadding": 1, "labelFont": "Liberation Sans Narrow, DejaVu Sans Condensed, Liberation Sans", "labelFontSize": 12.5, "labelFontWeight": "bold", "labelFlush": false, "labelOverlap": false, "labelLineHeight": 12}}
              },
              "layer": [
                {
                  "data": {"name": "ws"},
                  "mark": {"type": "line", "strokeWidth": 1.5, "color": "#1e3cff"},
                  "encoding": {
                    "y": {"field": "ws", "type": "quantitative", "scale": {"domain": [1, 9], "nice": false, "zero": false},
                          "axis": {"values": [2, 4, 6, 8], "tickSize": 3, "labelPadding": 1, "labelFont": "DejaVu Sans", "labelFontSize": 12, "labelOverlap": false}}
                  }
                },
                {
                  "data": {"name": "wind"},
                  "mark": {"type": "point", "shape": "M0,0L0,-0.82M-0.09,-0.8L0,-1L0.09,-0.8Z", "filled": true, "fill": "black", "stroke": "black", "strokeWidth": 0.55, "opacity": 1, "clip": true},
                  "encoding": {
                    "y": {"datum": 5, "type": "quantitative", "axis": {"values": [2, 4, 6, 8], "tickSize": 3, "labelPadding": 1, "labelFont": "DejaVu Sans", "labelFontSize": 12, "labelOverlap": false}},
                    "angle": {"field": "dir", "type": "quantitative", "scale": null},
                    "size": {"field": "mag", "type": "quantitative", "scale": {"type": "pow", "exponent": 2, "domain": [0, 10], "range": [0, 6400]}, "legend": null}
                  }
                }
              ]
            },
            {
              "title": {"text": "Pressao ao Nivel Medio do Mar (hPa)", "dx": 21, "offset": -7},
              "width": 546, "height": 90,
              "data": {"name": "pres"},
              "mark": {"type": "line", "strokeWidth": 1.5, "color": "#1e3cff"},
              "encoding": {
                "x": {"field": "h", "type": "quantitative", "scale": {"domain": [0, 167], "nice": false, "zero": false},
                      "axis": {"values": [0, 24, 48, 72, 96, 120, 144], "labelExpr": "datum.value == 0 ? ['7APR','2026'] : (7 + datum.value/24) + 'APR'", "tickSize": 3, "labelPadding": 1, "labelFont": "Liberation Sans Narrow, DejaVu Sans Condensed, Liberation Sans", "labelFontSize": 12.5, "labelFontWeight": "bold", "labelFlush": false, "labelOverlap": false, "labelLineHeight": 12}},
                "y": {"field": "p", "type": "quantitative", "scale": {"domain": [1010, 1020], "nice": false, "zero": false},
                      "axis": {"values": [1010, 1012, 1014, 1016, 1018, 1020], "format": "d", "tickSize": 3, "labelPadding": 1, "labelFont": "DejaVu Sans", "labelFontSize": 12, "labelOverlap": false}}
              }
            },
            {
              "width": 546, "height": 90,
              "data": {"name": "bars"},
              "resolve": {"scale": {"stroke": "independent"}, "legend": {"stroke": "independent"}},
              "encoding": {
                "x": {"field": "h", "type": "quantitative", "scale": {"domain": [0, 167], "nice": false, "zero": false},
                      "axis": {"values": [0, 24, 48, 72, 96, 120, 144], "labelExpr": "datum.value == 0 ? ['7APR','2026'] : (7 + datum.value/24) + 'APR'", "tickSize": 3, "labelPadding": 1, "labelFont": "Liberation Sans Narrow, DejaVu Sans Condensed, Liberation Sans", "labelFontSize": 12.5, "labelFontWeight": "bold", "labelFlush": false, "labelOverlap": false, "labelLineHeight": 11.5}},
                "y": {"type": "quantitative", "scale": {"domain": [0, 100], "nice": false},
                      "axis": {"values": [0, 20, 40, 60, 80, 100], "tickSize": 3, "labelPadding": 1, "labelFont": "DejaVu Sans", "labelFontSize": 12, "labelOverlap": false}}
              },
              "layer": [
                {
                  "mark": {"type": "bar", "width": 2.4, "fill": "#f5a057", "fillOpacity": 0.85, "strokeWidth": 0.8},
                  "encoding": {
                    "y": {"field": "ch", "type": "quantitative"},
                    "stroke": {"datum": "nuvens altas", "type": "nominal", "scale": {"domain": ["nuvens altas"], "range": ["#f08228"]},
                               "legend": {"title": null, "orient": "none", "legendX": 441.7, "legendY": -13, "padding": 0,
                                          "symbolType": "M-0.55,-1H0.55M0.55,-1V1M0.55,1H-0.55M-0.55,1V-1", "symbolSize": 160, "symbolStrokeWidth": 1.3, "symbolFillColor": "transparent",
                                          "labelFont": "Liberation Sans", "labelFontSize": 15, "labelOffset": 4, "labelLimit": 300, "labelColor": "#f08228"}}
                  }
                },
                {
                  "mark": {"type": "bar", "width": 2.4, "fill": "#33dd33", "fillOpacity": 0.85, "strokeWidth": 0.8},
                  "encoding": {
                    "y": {"field": "cm", "type": "quantitative"},
                    "stroke": {"datum": "nuvens medias", "type": "nominal", "scale": {"domain": ["nuvens medias"], "range": ["#00dc00"]},
                               "legend": {"title": null, "orient": "none", "legendX": 319.7, "legendY": -13, "padding": 0,
                                          "symbolType": "M-0.55,-1H0.55M0.55,-1V1M0.55,1H-0.55M-0.55,1V-1", "symbolSize": 160, "symbolStrokeWidth": 1.3, "symbolFillColor": "transparent",
                                          "labelFont": "Liberation Sans", "labelFontSize": 15, "labelOffset": 4, "labelLimit": 300, "labelColor": "#00c800"}}
                  }
                },
                {
                  "mark": {"type": "bar", "width": 2.4, "fill": "#6f86ff", "fillOpacity": 0.12, "strokeWidth": 1.1},
                  "encoding": {
                    "y": {"field": "cl", "type": "quantitative"},
                    "stroke": {"datum": "nuvens baixas", "type": "nominal", "scale": {"domain": ["nuvens baixas"], "range": ["#1e3cff"]},
                               "legend": {"title": "Cobertura de Nuvens (%)", "titleOrient": "left", "titleFont": "DejaVu Sans", "titleFontSize": 14, "titleFontWeight": "normal", "titleColor": "black", "titlePadding": 2, "titleBaseline": "middle",
                                          "orient": "none", "legendX": 22, "legendY": -13, "padding": 0,
                                          "symbolType": "M-0.55,-1H0.55M0.55,-1V1M0.55,1H-0.55M-0.55,1V-1", "symbolSize": 160, "symbolStrokeWidth": 1.3, "symbolFillColor": "transparent",
                                          "labelFont": "Liberation Sans", "labelFontSize": 15, "labelOffset": 4, "labelLimit": 300, "labelColor": "#1e3cff"}}
                  }
                }
              ]
            }
          ]
        }
      ]
    }
  ]
}
